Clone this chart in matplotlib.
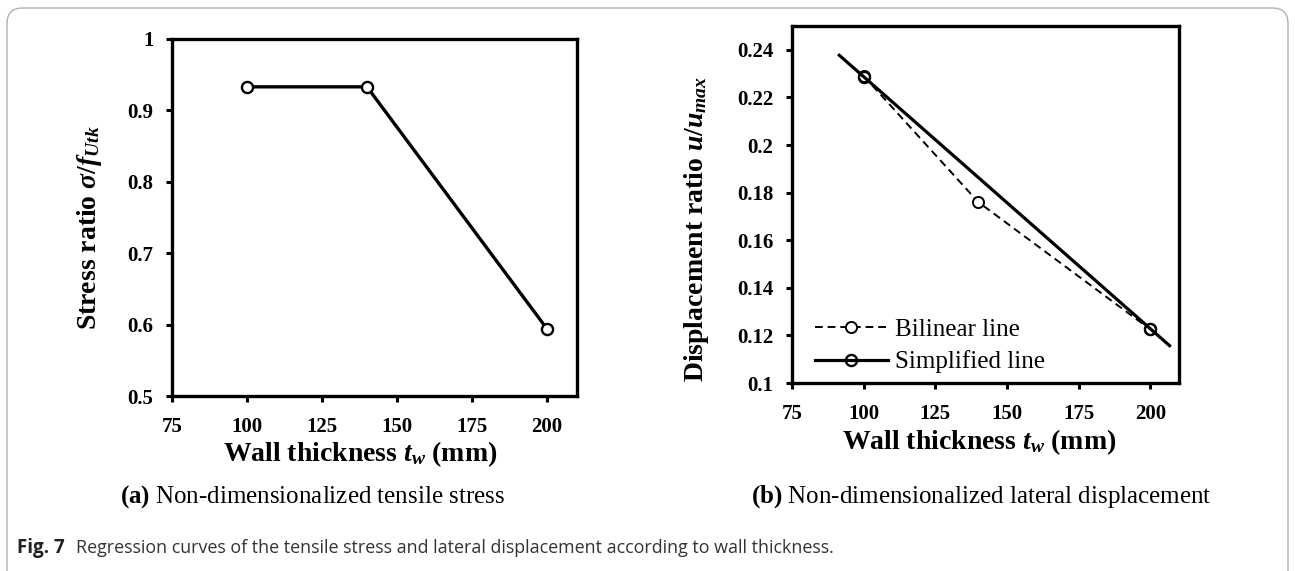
import matplotlib
matplotlib.use("Agg")
import matplotlib.pyplot as plt
from matplotlib.patches import FancyBboxPatch
from matplotlib.ticker import FuncFormatter

# 壁厚 (mm)
thickness = [100, 140, 200]

# (a) 引張応力比
stress_ratio = [0.933, 0.933, 0.594]

# (b) 変位比: バイリニア
disp_bilinear = [0.229, 0.176, 0.1225]

# (b) 変位比: 簡略化直線 (両端は延長部分)
simp_x = [91.5, 100, 200, 206.7]
simp_y = [0.2377, 0.2287, 0.1228, 0.1157]

x_ticks = [75, 100, 125, 150, 175, 200]
stress_ticks = [0.5, 0.6, 0.7, 0.8, 0.9, 1.0]
disp_ticks = [0.10, 0.12, 0.14, 0.16, 0.18, 0.20, 0.22, 0.24]

plt.rcParams["font.family"] = "Liberation Serif"
plt.rcParams["mathtext.fontset"] = "custom"
plt.rcParams["mathtext.rm"] = "Liberation Serif:bold"
plt.rcParams["mathtext.it"] = "Liberation Serif:italic:bold"
plt.rcParams["mathtext.bf"] = "Liberation Serif:bold"

W, H = 1295, 571
fig = plt.figure(figsize=(W / 100, H / 100), dpi=100)


def px_axes(left, top, right, bottom):
    return fig.add_axes([left / W, 1 - bottom / H, (right - left) / W, (bottom - top) / H])


def style_axes(ax):
    for s in ax.spines.values():
        s.set_linewidth(2.4)
    ax.tick_params(axis="both", direction="out", length=4.3, width=2.2, labelsize=15)
    ax.tick_params(axis="x", pad=11)
    ax.tick_params(axis="y", pad=9)
    for lab in ax.get_xticklabels() + ax.get_yticklabels():
        lab.set_fontweight("bold")


def set_labels(ax, ylabel, ylab_x, ylab_y, xlab_x, xlab_y):
    ax.set_xlabel(r"Wall thickness $t_w$ (mm)", fontsize=20, fontweight="bold")
    ax.set_ylabel(ylabel, fontsize=20, fontweight="bold")
    ax.yaxis.label.set_verticalalignment("center")
    ax.xaxis.label.set_verticalalignment("center")
    ax.yaxis.set_label_coords(ylab_x, ylab_y)
    ax.xaxis.set_label_coords(xlab_x, xlab_y)


g = lambda v, pos: "%g" % round(v, 3)

# (a) 引張応力
ax1 = px_axes(172, 39, 577, 396)
ax1.plot(thickness, stress_ratio, "-", color="black", lw=2.4,
         marker="o", ms=8, mfc="white", mec="black", mew=1.7)
ax1.set_xlim(75, 210)
ax1.set_ylim(0.5, 1.0)
ax1.set_xticks(x_ticks)
ax1.set_yticks(stress_ticks)
ax1.yaxis.set_major_formatter(FuncFormatter(g))
style_axes(ax1)
set_labels(ax1, r"Stress ratio $\sigma/f_{Utk}$",
           (90 - 172) / 405, (396 - 228) / 357,
           (360 - 172) / 405, -(454 - 396) / 357)

# (b) 横変位
ax2 = px_axes(792, 26, 1179, 383)
ax2.plot(thickness, disp_bilinear, color="black", lw=1.4, ls=(0, (4, 2.5)),
         marker="o", ms=8, mfc="white", mec="black", mew=1.4, label="Bilinear line")
ax2.plot(simp_x, simp_y, "-", color="black", lw=2.3, marker="o", markevery=[1, 2],
         ms=8, mfc="none", mec="black", mew=1.7, label="Simplified line")
ax2.set_xlim(75, 210)
ax2.set_ylim(0.1, 0.25)
ax2.set_xticks(x_ticks)
ax2.set_yticks(disp_ticks)
ax2.yaxis.set_major_formatter(FuncFormatter(g))
style_axes(ax2)
set_labels(ax2, r"Displacement ratio $u/u_{max}$",
           (697 - 792) / 387, (383 - 229) / 357,
           (979 - 792) / 387, -(442 - 383) / 357)
ax2.legend(loc="lower left", bbox_to_anchor=(0.059, 0.027), frameon=False,
           fontsize=18, handlelength=2.92, handletextpad=0.28, labelspacing=0.38,
           borderaxespad=0, borderpad=0)

# サブキャプション
fig.text(312 / W, 1 - 497 / H, r"$\mathbf{(a)}$ Non-dimensionalized tensile stress",
         ha="center", va="center", fontsize=18)
fig.text(981 / W, 1 - 497 / H, r"$\mathbf{(b)}$ Non-dimensionalized lateral displacement",
         ha="center", va="center", fontsize=18)

# 図キャプション
fig.text(17 / W, 1 - 548 / H, "Fig. 7", family="Open Sans", fontweight="bold",
         fontsize=13.5, color="#222222", va="center", ha="left")
fig.text(76 / W, 1 - 548 / H,
         "Regression curves of the tensile stress and lateral displacement according to wall thickness.",
         family="Open Sans", fontsize=12.9, color="#333333", va="center", ha="left")

# 外枠 (角丸)
frame = FancyBboxPatch((7 / W, -0.1), (1288 - 7) / W, (H - 8) / H + 0.1,
                       boxstyle="round,pad=0,rounding_size=0.012",
                       transform=fig.transFigure, fill=False,
                       edgecolor="#b0b0b0", lw=1.0, mutation_aspect=W / H)
fig.patches.append(frame)

fig.savefig("out.png", dpi=100)
